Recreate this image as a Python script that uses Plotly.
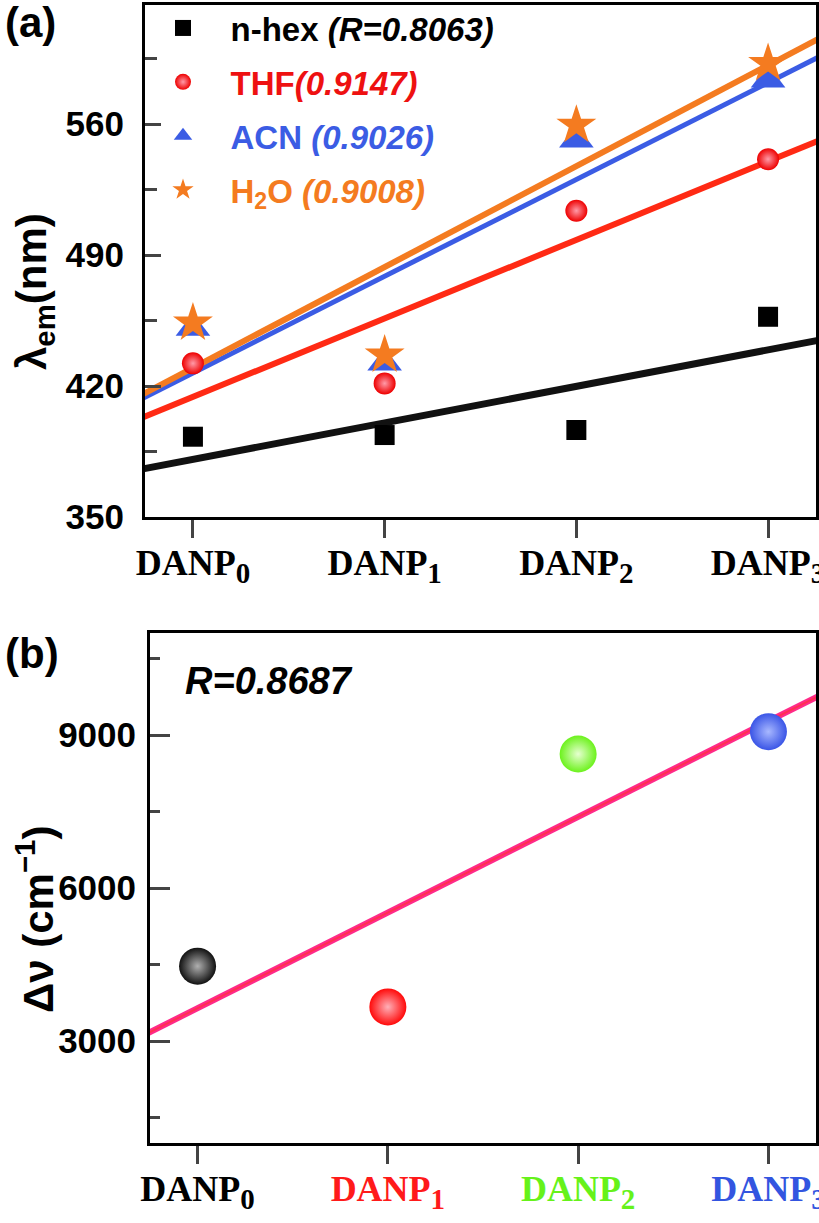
import numpy as np
import plotly.graph_objects as go

# ---------------- data ----------------
categories = ["DANP0", "DANP1", "DANP2", "DANP3"]
x_pos = [0, 1, 2, 3]

nhex = [392.9, 393.8, 396.5, 457.0]
thf = [432.1, 421.4, 513.7, 541.2]
acn = [450.8, 432.3, 551.5, 583.5]
h2o = [453.7, 436.6, 559.4, 592.4]

stokes = [4467, 3668, 8627, 9065]

a_ticks = [350, 420, 490, 560]
a_minor = [385, 455, 525, 595]
b_ticks = [3000, 6000, 9000]
b_minor = [1500, 4500, 7500, 10500]

# ---------------- style ----------------
BLACK = "#000000"
RED = "#ee1111"
BLUE = "#3b5ce4"
ORANGE = "#f47b20"
SANS = "Liberation Sans"
SERIF = "Liberation Serif"

W, H = 819, 1223
def px_x(p):
    return p / W
def px_y(p):
    return 1 - p / H

fig = go.Figure()

xr = [-0.25, 3.25]
xfit = np.array([-0.35, 3.35])

def fit(vals):
    k, b = np.polyfit(x_pos, vals, 1)
    return k * xfit + b

# fit lines panel a
for vals, col, w in [(nhex, "#111111", 7), (thf, "#ff2a14", 6), (acn, BLUE, 5), (h2o, ORANGE, 6)]:
    fig.add_trace(go.Scatter(x=xfit, y=fit(vals), mode="lines", line=dict(color=col, width=w),
                             showlegend=False, hoverinfo="skip", xaxis="x", yaxis="y"))

SP = "&nbsp;&nbsp;&nbsp;"
def span(txt, col):
    return f"{SP}<span style='color:{col}'>{txt}</span>"

fig.add_trace(go.Scatter(x=x_pos, y=nhex, mode="markers", xaxis="x", yaxis="y",
                         marker=dict(symbol="square", size=20, color=BLACK),
                         name=span("<b>n-hex <i>(R=0.8063)</i></b>", BLACK), legendgroup="a"))
fig.add_trace(go.Scatter(x=x_pos, y=thf, mode="markers", xaxis="x", yaxis="y",
                         marker=dict(symbol="circle", size=22, color="#ee0000",
                                     gradient=dict(type="radial", color="#ff9aa8")),
                         name=span("<b>THF<i>(0.9147)</i></b>", RED), legendgroup="b"))
fig.add_trace(go.Scatter(x=x_pos, y=acn, mode="markers", xaxis="x", yaxis="y",
                         marker=dict(symbol="triangle-up", size=30, color=BLUE),
                         name=span("<b>ACN <i>(0.9026)</i></b>", BLUE), legendgroup="c"))
fig.add_trace(go.Scatter(x=x_pos, y=h2o, mode="markers", xaxis="x", yaxis="y",
                         marker=dict(symbol="star", size=30, color=ORANGE),
                         name=span("<b>H<sub>2</sub>O <i>(0.9008)</i></b>", ORANGE), legendgroup="d"))

# panel b
fig.add_trace(go.Scatter(x=xfit, y=fit(stokes), mode="lines", line=dict(color="#ff2a8a", width=6),
                         showlegend=False, hoverinfo="skip", xaxis="x2", yaxis="y2"))
fig.add_trace(go.Scatter(x=xfit, y=fit(stokes), mode="lines", line=dict(color="#ff3050", width=2),
                         showlegend=False, hoverinfo="skip", xaxis="x2", yaxis="y2"))
sphere_cols = ["#111111", "#ff0a0a", "#6cf21c", "#3a55e6"]
sphere_hi = ["#b0b0b0", "#ffb0b8", "#e6ffd0", "#a8b8ff"]
for i in range(4):
    fig.add_trace(go.Scatter(x=[x_pos[i]], y=[stokes[i]], mode="markers", xaxis="x2", yaxis="y2",
                             marker=dict(symbol="circle", size=37, color=sphere_cols[i],
                                         gradient=dict(type="radial", color=sphere_hi[i])),
                             showlegend=False))

ax_common = dict(showline=True, linecolor="black", linewidth=3, mirror=True,
                 showgrid=False, zeroline=False, automargin=False)

SUB = "<sub><span style='font-size:29px'>{}</span></sub>"
ticktext_a = [f"<b>DANP{SUB.format(i)}</b>" for i in range(4)]
label_cols = [BLACK, "#ff1a1a", "#66f21a", "#3355e0"]
ticktext_b = [f"<span style='color:{label_cols[i]}'><b>DANP{SUB.format(i)}</b></span>" for i in range(4)]

xfont = dict(family=SERIF, size=36, color="black")
yfont = dict(family=SANS, size=35, color="black", weight="bold")

fig.update_layout(
    width=W, height=H,
    margin=dict(l=0, r=0, t=0, b=0),
    paper_bgcolor="white", plot_bgcolor="white",
    xaxis=dict(domain=[px_x(145), px_x(816)], range=xr, anchor="y",
               tickvals=x_pos, ticktext=ticktext_a, ticks="outside", ticklen=18, tickwidth=3,
               ticklabelstandoff=-6,
               tickfont=xfont, ticklabeloverflow="allow", **ax_common),
    yaxis=dict(domain=[px_y(517), px_y(5)], range=[350, 623.6], anchor="x",
               tickvals=a_ticks, ticks="inside", ticklen=16, tickwidth=3, ticklabelstandoff=11,
               minor=dict(tickvals=a_minor, ticks="inside", ticklen=12, tickwidth=3),
               tickfont=yfont, **ax_common),
    xaxis2=dict(domain=[px_x(150), px_x(816)], range=xr, anchor="y2",
                tickvals=x_pos, ticktext=ticktext_b, ticks="outside", ticklen=18, tickwidth=3,
                ticklabelstandoff=-6,
                tickfont=xfont, ticklabeloverflow="allow", **ax_common),
    yaxis2=dict(domain=[px_y(1143), px_y(633)], range=[1000, 11000], anchor="x2",
                tickvals=b_ticks, ticks="inside", ticklen=20, tickwidth=3, ticklabelstandoff=4,
                minor=dict(tickvals=b_minor, ticks="inside", ticklen=10, tickwidth=3),
                tickfont=yfont, **ax_common),
    legend=dict(x=px_x(163), y=1.0, xanchor="left", yanchor="top",
                bgcolor="rgba(0,0,0,0)", font=dict(family=SANS, size=33, color="black"),
                tracegroupgap=8, itemsizing="trace", itemwidth=30),
    showlegend=True,
    annotations=[
        dict(text="<b>(a)</b>", x=px_x(3), y=px_y(-3), xref="paper", yref="paper",
             xanchor="left", yanchor="top", showarrow=False,
             font=dict(family=SANS, size=42, color="black")),
        dict(text="<b>(b)</b>", x=px_x(3), y=px_y(628), xref="paper", yref="paper",
             xanchor="left", yanchor="top", showarrow=False,
             font=dict(family=SANS, size=42, color="black")),
        dict(text="<b><i>R=0.8687</i></b>", x=px_x(183), y=px_y(658), xref="paper", yref="paper",
             xanchor="left", yanchor="top", showarrow=False,
             font=dict(family=SANS, size=38, color="black")),
        dict(text="<b>λ<sub>em</sub>(nm)</b>", x=px_x(34), y=px_y(292), xref="paper", yref="paper",
             xanchor="center", yanchor="middle", textangle=-90, showarrow=False,
             font=dict(family=SANS, size=42, color="black")),
        dict(text="<b>Δν (cm<sup>−1</sup>)</b>", x=px_x(35), y=px_y(920), xref="paper", yref="paper",
             xanchor="center", yanchor="middle", textangle=-90, showarrow=False,
             font=dict(family=SANS, size=42, color="black")),
    ],
)

# remove the browser's default 8px body margin so the figure sits at the window origin
fig.write_html("out.html", config={"displayModeBar": False},
               post_script="document.body.style.margin='0px';")
